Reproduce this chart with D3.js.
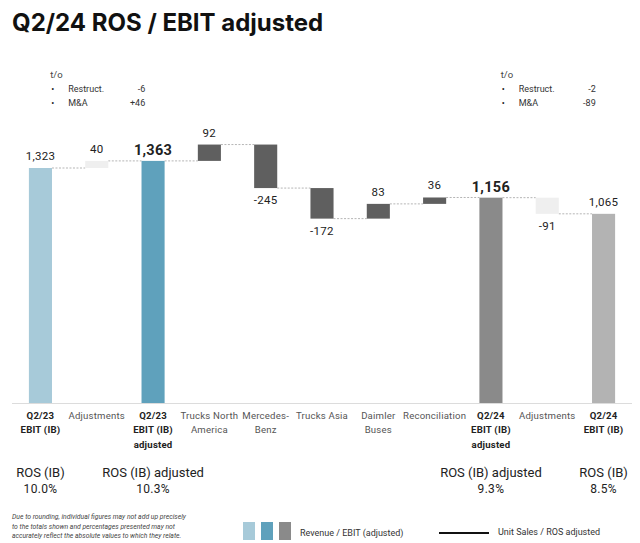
<!DOCTYPE html>
<html>
<head>
<meta charset="utf-8">
<script src="https://cdn.jsdelivr.net/npm/d3@7"></script>
<style>
  body { margin: 0; background: #fff; font-family: Roboto, "Liberation Sans", sans-serif; }
  svg text { fill: #222; }
</style>
</head>
<body>
<script>
// Data
const categories = [
  ["Q2/23", "EBIT (IB)"],
  ["Adjustments"],
  ["Q2/23", "EBIT (IB)", "adjusted"],
  ["Trucks North", "America"],
  ["Mercedes-", "Benz"],
  ["Trucks Asia"],
  ["Daimler", "Buses"],
  ["Reconciliation"],
  ["Q2/24", "EBIT (IB)", "adjusted"],
  ["Adjustments"],
  ["Q2/24", "EBIT (IB)"]
];
const values = [1323, 40, 1363, 92, -245, -172, 83, 36, 1156, -91, 1065];
const kinds = ["total", "adj", "total", "delta", "delta", "delta", "delta", "delta", "total", "adj", "total"];
const valueLabels = ["1,323", "40", "1,363", "92", "-245", "-172", "83", "36", "1,156", "-91", "1,065"];
const boldTotals = [false, false, true, false, false, false, false, false, true, false, false];
const barColors = ["#a7cad9", "#efefef", "#5fa1bc", "#5f5f5f", "#5f5f5f", "#5f5f5f", "#5f5f5f", "#5f5f5f", "#8a8a8a", "#efefef", "#b3b3b3"];
const rosLabels = [
  { idx: 0, name: "ROS (IB)", value: "10.0%" },
  { idx: 2, name: "ROS (IB) adjusted", value: "10.3%" },
  { idx: 8, name: "ROS (IB) adjusted", value: "9.3%" },
  { idx: 10, name: "ROS (IB)", value: "8.5%" }
];
const oneOffs = [
  { idx: 1, items: [["Restruct.", "-6"], ["M&A", "+46"]] },
  { idx: 9, items: [["Restruct.", "-2"], ["M&A", "-89"]] }
];
const footnote = [
  "Due to rounding, individual figures may not add up precisely",
  "to the totals shown and percentages presented may not",
  "accurately reflect the absolute values to which they relate."
];

const width = 640, height = 543;
const svg = d3.select("body").append("svg").attr("width", width).attr("height", height);

// Title
svg.append("text").attr("x", 12).attr("y", 31)
  .style("font-family", "Inter, sans-serif")
  .style("font-size", "24px").style("font-weight", 700).style("fill", "#111")
  .text("Q2/24 ROS / EBIT adjusted");

// Scales
const x = d3.scaleBand().domain(d3.range(values.length)).range([12, 632]).paddingInner(0.59).paddingOuter(0.3);
const y = d3.scaleLinear().domain([0, 1323]).range([403, 168]);

// Compute waterfall ranges
let running = 0;
const bars = values.map((v, i) => {
  let lo, hi;
  if (kinds[i] === "total") { lo = 0; hi = v; running = v; }
  else { const start = running; running = start + v; lo = Math.min(start, running); hi = Math.max(start, running); }
  return { i, v, lo, hi, end: running };
});

// Connectors
svg.append("g").selectAll("line").data(bars.slice(0, -1)).join("line")
  .attr("x1", d => x(d.i) + x.bandwidth())
  .attr("x2", d => x(d.i + 1))
  .attr("y1", d => y(d.end)).attr("y2", d => y(d.end))
  .attr("stroke", "#b5b5b5").attr("stroke-width", 1).attr("stroke-dasharray", "2,1.5");

// Bars
svg.append("g").selectAll("rect").data(bars).join("rect")
  .attr("x", d => x(d.i)).attr("width", x.bandwidth())
  .attr("y", d => y(d.hi)).attr("height", d => y(d.lo) - y(d.hi))
  .attr("fill", d => barColors[d.i]);

// Baseline
svg.append("line").attr("x1", 12).attr("x2", 632).attr("y1", 403.5).attr("y2", 403.5)
  .attr("stroke", "#dcdcdc").attr("stroke-width", 1);

// Value labels
svg.append("g").selectAll("text").data(bars).join("text")
  .attr("x", d => x(d.i) + x.bandwidth() / 2)
  .attr("y", d => d.v < 0 && kinds[d.i] !== "total" ? y(d.lo) + 16 : y(d.hi) - (boldTotals[d.i] ? 6 : 8))
  .attr("text-anchor", "middle")
  .style("font-size", d => boldTotals[d.i] ? "14.5px" : "11.5px")
  .style("font-weight", d => boldTotals[d.i] ? 700 : 400)
  .style("letter-spacing", "0.3px")
  .text(d => valueLabels[d.i]);

// Category labels
const cat = svg.append("g").selectAll("text").data(categories).join("text")
  .attr("x", (d, i) => x(i) + x.bandwidth() / 2)
  .attr("y", 418.5)
  .attr("text-anchor", "middle")
  .style("font-size", "9.6px")
  .style("letter-spacing", "0.2px")
  .style("font-weight", (d, i) => kinds[i] === "total" ? 700 : 400)
  .style("fill", (d, i) => kinds[i] === "total" ? "#222" : "#555");
cat.selectAll("tspan").data(d => d).join("tspan")
  .attr("x", function () { return d3.select(this.parentNode).attr("x"); })
  .attr("dy", (d, j) => j === 0 ? 0 : 14.5)
  .text(d => d);

// ROS labels
const ros = svg.append("g").selectAll("g").data(rosLabels).join("g")
  .attr("transform", d => `translate(${x(d.idx) + x.bandwidth() / 2},0)`);
ros.append("text").attr("y", 476.5).attr("text-anchor", "middle").style("font-size", "13px").text(d => d.name);
ros.append("text").attr("y", 493).attr("text-anchor", "middle").style("font-size", "12px").style("letter-spacing", "0.3px").text(d => d.value);

// One-off annotations (t/o)
const oo = svg.append("g").selectAll("g").data(oneOffs).join("g")
  .attr("transform", d => `translate(${x(d.idx) - 35},0)`);
oo.append("text").attr("x", 0).attr("y", 78).style("font-size", "9.5px").style("fill", "#444").text("t/o");
oo.each(function (d) {
  const g = d3.select(this);
  d.items.forEach((it, k) => {
    const yy = 92 + k * 14;
    g.append("text").attr("x", 1).attr("y", yy).style("font-size", "9px").text("•");
    g.append("text").attr("x", 18).attr("y", yy).style("font-size", "9px").style("fill", "#333").text(it[0]);
    g.append("text").attr("x", 95).attr("y", yy).attr("text-anchor", "end").style("font-size", "9px").style("fill", "#333").text(it[1]);
  });
});

// Footnote
svg.append("g").selectAll("text").data(footnote).join("text")
  .attr("x", 12).attr("y", (d, i) => 519 + i * 9.5)
  .style("font-size", "6.8px").style("font-style", "italic").style("fill", "#444")
  .text(d => d);

// Legend
const legendSwatches = ["#a7cad9", "#5fa1bc", "#8a8a8a"];
svg.append("g").selectAll("rect").data(legendSwatches).join("rect")
  .attr("x", (d, i) => 243 + i * 18).attr("y", 522).attr("width", 12).attr("height", 18)
  .attr("fill", d => d);
svg.append("text").attr("x", 300).attr("y", 536).style("font-size", "9px").style("fill", "#333")
  .text("Revenue / EBIT (adjusted)");
svg.append("line").attr("x1", 439).attr("x2", 489).attr("y1", 533).attr("y2", 533)
  .attr("stroke", "#111").attr("stroke-width", 2);
svg.append("text").attr("x", 498).attr("y", 535).style("font-size", "9px").style("fill", "#333")
  .text("Unit Sales / ROS adjusted");
</script>
</body>
</html>
